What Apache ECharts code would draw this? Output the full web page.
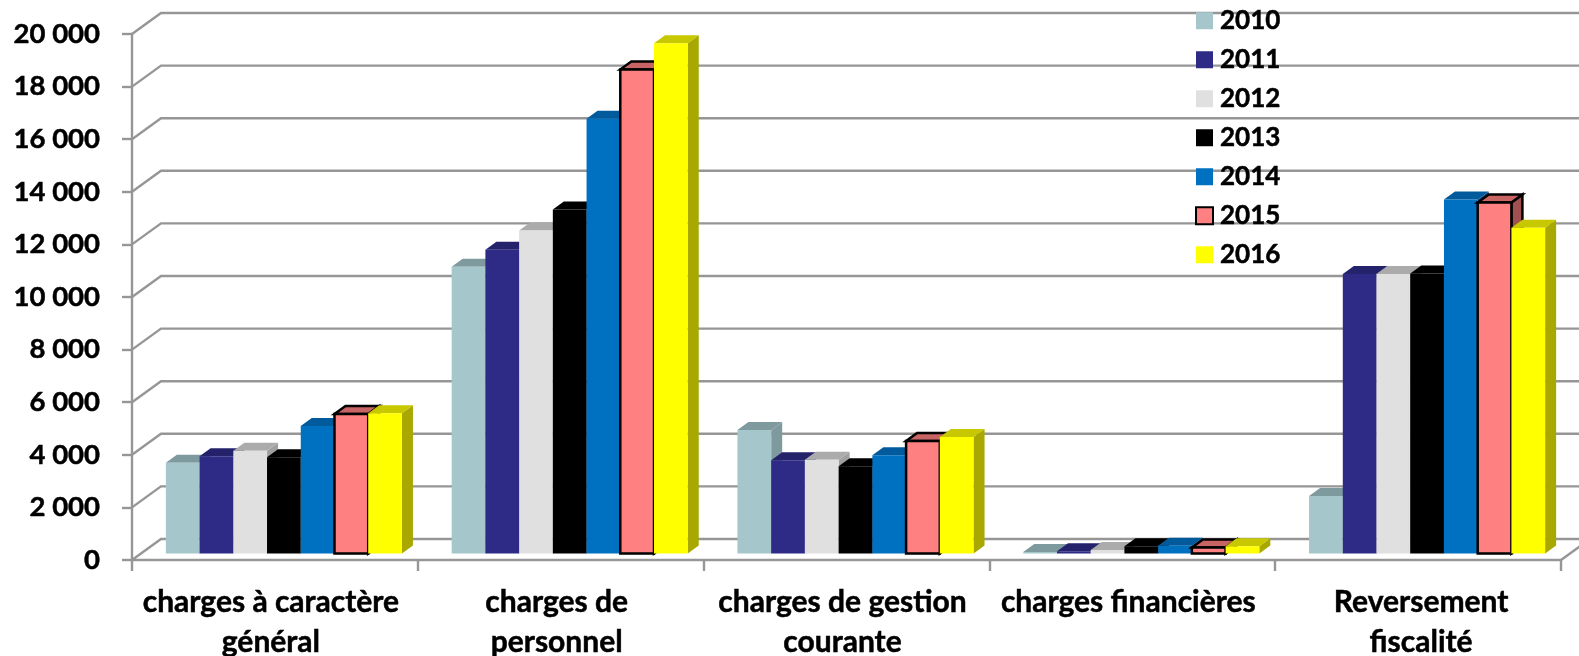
<!DOCTYPE html>
<html><head><meta charset="utf-8">
<style>html,body{margin:0;padding:0;background:#fff}#c{width:1579px;height:656px}</style>
<script src="https://cdn.jsdelivr.net/npm/echarts@6/dist/echarts.min.js"></script>
</head><body><div id="c"></div>
<script>
const categories = ['charges à caractère\ngénéral','charges de\npersonnel','charges de gestion\ncourante','charges financières','Reversement\nfiscalité'];
const years = ['2010','2011','2012','2013','2014','2015','2016'];
const values2010 = [3450,10900,4700,60,2190];
const values2011 = [3700,11550,3550,90,10630];
const values2012 = [3910,12280,3560,130,10630];
const values2013 = [3660,13080,3320,280,10650];
const values2014 = [4850,16530,3740,290,13460];
const values2015 = [5300,18400,4280,230,13350];
const values2016 = [5330,19400,4430,280,12390];
const yTicks = [0,2000,4000,6000,8000,10000,12000,14000,16000,18000,20000];
const allValues = [values2010,values2011,values2012,values2013,values2014,values2015,values2016];

const fronts = ['#A5C6CB','#2E2B87','#E0E0E0','#000000','#0070C0','#FF8080','#FFFF00'];
const tops   = ['#7F9A9E','#25226C','#ABABAB','#000000','#005A9B','#C96464','#C8C800'];
const sides  = ['#7F9A9E','#1F1D5C','#A0A0A0','#000000','#004F88','#A05050','#A8A800'];
const WALL_X = 29, WALL_Y = 21, DEPTH_X = 11, DEPTH_Y = 8;
const GRAY = '#969696';
const FONT = 'Lato';
const LINE_W = 2.4;

function wallItem(params, api) {
  const p = api.coord([0, api.value(1)]);
  const x0 = params.coordSys.x, y = p[1];
  const lines = [{type:'polyline', shape:{points:[[x0,y],[x0+WALL_X,y-WALL_Y],[1590,y-WALL_Y]]},
    style:{stroke:GRAY,lineWidth:LINE_W,fill:null}}];
  if (api.value(1) === 0) {
    const xr = x0 + params.coordSys.width;
    lines.push({type:'line', shape:{x1:xr,y1:y,x2:xr+WALL_X,y2:y-WALL_Y}, style:{stroke:GRAY,lineWidth:LINE_W}});
  }
  return {type:'group', children:lines};
}

function barItem(s) {
  return function (params, api) {
    const band = api.size([1,0])[0];
    const w = band * 0.118;
    const c = api.coord([api.value(0), api.value(1)]);
    const b = api.coord([api.value(0), 0]);
    const lift = 6.5;
    const x = c[0] + 9 + (s - 3.5) * w, yT = c[1] - lift, yB = b[1] - lift;
    const edge = s === 5 ? {stroke:'#000',lineWidth:2.5,lineJoin:'miter'} : {stroke:null};
    const ofs = [DEPTH_X, -DEPTH_Y];
    return {type:'group', children:[
      {type:'polygon', shape:{points:[[x+w,yT],[x+w+ofs[0],yT+ofs[1]],[x+w+ofs[0],yB+ofs[1]],[x+w,yB]]},
        style:Object.assign({fill:sides[s]},edge)},
      {type:'polygon', shape:{points:[[x,yT],[x+ofs[0],yT+ofs[1]],[x+w+ofs[0],yT+ofs[1]],[x+w,yT]]},
        style:Object.assign({fill:tops[s]},edge)},
      {type:'rect', shape:{x:x,y:yT,width:w,height:yB-yT},
        style:Object.assign({fill:fronts[s]},edge)}
    ]};
  };
}

const series = [{
  type:'custom', name:'wall', silent:true, z:1,
  renderItem:wallItem, encode:{x:0,y:1},
  data:yTicks.map(t=>[0,t])
}];
years.forEach((y,s)=>{
  series.push({
    type:'custom', name:y, z:2+s,
    renderItem:barItem(s), encode:{x:0,y:1},
    itemStyle: s===5 ? {color:fronts[s],borderColor:'#000',borderWidth:2.5} : {color:fronts[s]},
    data:allValues[s].map((v,i)=>[i,v])
  });
});

const HEAVY = {textBorderColor:'#000',textBorderWidth:0.5};
const chart = echarts.init(document.getElementById('c'),null,{renderer:'canvas'});
chart.setOption({
  animation:false,
  backgroundColor:'#fff',
  grid:{left:132,right:18,top:34,bottom:96,containLabel:false,outerBoundsMode:'none'},
  legend:{
    data:years, orient:'vertical', left:1195, top:7.5, padding:0,
    icon:'rect', itemWidth:17, itemHeight:17, itemGap:12.5, selectedMode:false,
    textStyle:Object.assign({fontFamily:FONT,fontWeight:'bold',fontSize:26,color:'#000',padding:[0,0,0,2],lineHeight:25},HEAVY)
  },
  xAxis:{
    type:'category',
    data:categories.map((c,i)=> i===4 ? {value:c,textStyle:{padding:[0,0,0,6]}} : c),
    boundaryGap:true,
    axisLine:{show:true,onZero:true,lineStyle:{color:GRAY,width:LINE_W}},
    axisTick:{show:true,alignWithLabel:false,length:11,lineStyle:{color:GRAY,width:LINE_W}},
    axisLabel:Object.assign({interval:0,margin:22,padding:[0,8,0,0],fontFamily:FONT,fontWeight:'bold',fontSize:30,color:'#000',lineHeight:40},HEAVY),
    splitLine:{show:false}
  },
  yAxis:{
    type:'value', min:0, max:20000, interval:2000,
    axisLine:{show:true,lineStyle:{color:GRAY,width:LINE_W}},
    axisTick:{show:true,length:10,lineStyle:{color:GRAY,width:LINE_W}},
    axisLabel:Object.assign({margin:32,padding:[8,0,0,0],fontFamily:FONT,fontWeight:'bold',fontSize:27.5,color:'#000',
      formatter:v=>String(v).replace(/\B(?=(\d{3})+$)/g,' ')},HEAVY),
    splitLine:{show:false}
  },
  series
});
</script></body></html>
